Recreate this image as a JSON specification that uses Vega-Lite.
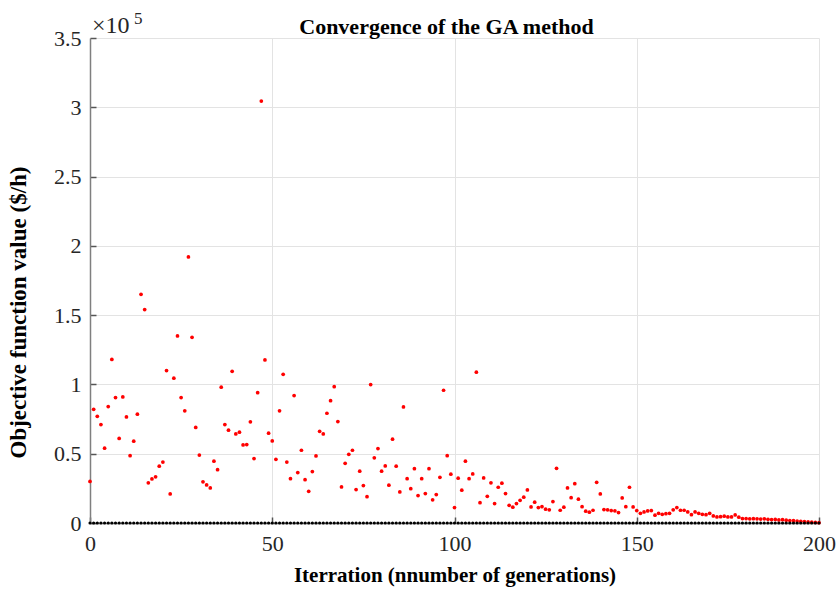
{
  "$schema": "https://vega.github.io/schema/vega-lite/v6.json",
  "width": 729,
  "height": 485,
  "autosize": {"type": "none"},
  "padding": {"left": 90, "top": 38, "right": 21, "bottom": 66},
  "background": "white",
  "title": {"text": "Convergence of the GA  method", "font": "Liberation Serif", "fontSize": 22, "fontWeight": "bold", "color": "#000000", "offset": -46, "baseline": "alphabetic", "anchor": "middle", "frame": "group", "dx": -8},
  "config": {"view": {"stroke": null}},
  "datasets": {
    "ga": [
      {"i":0,"v":30000,"b":0},{"i":1,"v":82000,"b":0},{"i":2,"v":77000,"b":0},{"i":3,"v":71000,"b":0},{"i":4,"v":54000,"b":0},
      {"i":5,"v":84000,"b":0},{"i":6,"v":118000,"b":0},{"i":7,"v":90500,"b":0},{"i":8,"v":61000,"b":0},{"i":9,"v":91000,"b":0},
      {"i":10,"v":76500,"b":0},{"i":11,"v":48600,"b":0},{"i":12,"v":59000,"b":0},{"i":13,"v":78500,"b":0},{"i":14,"v":165000,"b":0},
      {"i":15,"v":154000,"b":0},{"i":16,"v":29000,"b":0},{"i":17,"v":31800,"b":0},{"i":18,"v":33300,"b":0},{"i":19,"v":41000,"b":0},
      {"i":20,"v":44000,"b":0},{"i":21,"v":110000,"b":0},{"i":22,"v":21000,"b":0},{"i":23,"v":104500,"b":0},{"i":24,"v":135000,"b":0},
      {"i":25,"v":90500,"b":0},{"i":26,"v":81000,"b":0},{"i":27,"v":192000,"b":0},{"i":28,"v":134000,"b":0},{"i":29,"v":69000,"b":0},
      {"i":30,"v":49000,"b":0},{"i":31,"v":29700,"b":0},{"i":32,"v":27500,"b":0},{"i":33,"v":25300,"b":0},{"i":34,"v":44600,"b":0},
      {"i":35,"v":38500,"b":0},{"i":36,"v":98000,"b":0},{"i":37,"v":71000,"b":0},{"i":38,"v":67000,"b":0},{"i":39,"v":109500,"b":0},
      {"i":40,"v":64300,"b":0},{"i":41,"v":65500,"b":0},{"i":42,"v":56300,"b":0},{"i":43,"v":56600,"b":0},{"i":44,"v":73000,"b":0},
      {"i":45,"v":46500,"b":0},{"i":46,"v":94000,"b":0},{"i":47,"v":304500,"b":0},{"i":48,"v":117700,"b":0},{"i":49,"v":64800,"b":0},
      {"i":50,"v":59200,"b":0},{"i":51,"v":46000,"b":0},{"i":52,"v":81000,"b":0},{"i":53,"v":107300,"b":0},{"i":54,"v":44000,"b":0},
      {"i":55,"v":32000,"b":0},{"i":56,"v":92000,"b":0},{"i":57,"v":36400,"b":0},{"i":58,"v":52500,"b":0},{"i":59,"v":31300,"b":0},
      {"i":60,"v":22900,"b":0},{"i":61,"v":37100,"b":0},{"i":62,"v":48400,"b":0},{"i":63,"v":66200,"b":0},{"i":64,"v":64300,"b":0},
      {"i":65,"v":79200,"b":0},{"i":66,"v":88300,"b":0},{"i":67,"v":98400,"b":0},{"i":68,"v":73200,"b":0},{"i":69,"v":26000,"b":0},
      {"i":70,"v":43100,"b":0},{"i":71,"v":49600,"b":0},{"i":72,"v":52500,"b":0},{"i":73,"v":24100,"b":0},{"i":74,"v":37400,"b":0},
      {"i":75,"v":27000,"b":0},{"i":76,"v":19000,"b":0},{"i":77,"v":99900,"b":0},{"i":78,"v":47000,"b":0},{"i":79,"v":53700,"b":0},
      {"i":80,"v":37400,"b":0},{"i":81,"v":41200,"b":0},{"i":82,"v":27300,"b":0},{"i":83,"v":60500,"b":0},{"i":84,"v":41000,"b":0},
      {"i":85,"v":22400,"b":0},{"i":86,"v":83800,"b":0},{"i":87,"v":32000,"b":0},{"i":88,"v":24800,"b":0},{"i":89,"v":39200,"b":0},
      {"i":90,"v":19800,"b":0},{"i":91,"v":32000,"b":0},{"i":92,"v":21200,"b":0},{"i":93,"v":39200,"b":0},{"i":94,"v":16700,"b":0},
      {"i":95,"v":20500,"b":0},{"i":96,"v":33000,"b":0},{"i":97,"v":95800,"b":0},{"i":98,"v":48600,"b":0},{"i":99,"v":35200,"b":0},
      {"i":100,"v":11100,"b":0},{"i":101,"v":32300,"b":0},{"i":102,"v":23700,"b":0},{"i":103,"v":44600,"b":0},{"i":104,"v":32000,"b":0},
      {"i":105,"v":35400,"b":0},{"i":106,"v":108800,"b":0},{"i":107,"v":14700,"b":0},{"i":108,"v":32500,"b":0},{"i":109,"v":19300,"b":0},
      {"i":110,"v":29000,"b":0},{"i":111,"v":14000,"b":0},{"i":112,"v":25800,"b":0},{"i":113,"v":28700,"b":0},{"i":114,"v":21200,"b":0},
      {"i":115,"v":12800,"b":0},{"i":116,"v":11400,"b":0},{"i":117,"v":14000,"b":0},{"i":118,"v":16400,"b":0},{"i":119,"v":18600,"b":0},
      {"i":120,"v":23900,"b":0},{"i":121,"v":11600,"b":0},{"i":122,"v":15000,"b":0},{"i":123,"v":11100,"b":0},{"i":124,"v":11800,"b":0},
      {"i":125,"v":10000,"b":0},{"i":126,"v":9500,"b":0},{"i":127,"v":15500,"b":0},{"i":128,"v":39500,"b":0},{"i":129,"v":9200,"b":0},
      {"i":130,"v":11400,"b":0},{"i":131,"v":25300,"b":0},{"i":132,"v":18300,"b":0},{"i":133,"v":28400,"b":0},{"i":134,"v":17200,"b":0},
      {"i":135,"v":11800,"b":0},{"i":136,"v":8500,"b":0},{"i":137,"v":7800,"b":0},{"i":138,"v":9200,"b":0},{"i":139,"v":29400,"b":0},
      {"i":140,"v":21000,"b":0},{"i":141,"v":9700,"b":0},{"i":142,"v":9500,"b":0},{"i":143,"v":9000,"b":0},{"i":144,"v":8800,"b":0},
      {"i":145,"v":7500,"b":0},{"i":146,"v":18100,"b":0},{"i":147,"v":11800,"b":0},{"i":148,"v":25800,"b":0},{"i":149,"v":11600,"b":0},
      {"i":150,"v":9000,"b":0},{"i":151,"v":7000,"b":0},{"i":152,"v":8000,"b":0},{"i":153,"v":8700,"b":0},{"i":154,"v":9000,"b":0},
      {"i":155,"v":5600,"b":0},{"i":156,"v":7000,"b":0},{"i":157,"v":6300,"b":0},{"i":158,"v":6700,"b":0},{"i":159,"v":7000,"b":0},
      {"i":160,"v":9500,"b":0},{"i":161,"v":11100,"b":0},{"i":162,"v":9200,"b":0},{"i":163,"v":9200,"b":0},{"i":164,"v":8000,"b":0},
      {"i":165,"v":6000,"b":0},{"i":166,"v":8000,"b":0},{"i":167,"v":7000,"b":0},{"i":168,"v":6300,"b":0},{"i":169,"v":6000,"b":0},
      {"i":170,"v":7000,"b":0},{"i":171,"v":5100,"b":0},{"i":172,"v":4400,"b":0},{"i":173,"v":4600,"b":0},{"i":174,"v":4900,"b":0},
      {"i":175,"v":4400,"b":0},{"i":176,"v":4400,"b":0},{"i":177,"v":5800,"b":0},{"i":178,"v":4200,"b":0},{"i":179,"v":3200,"b":0},
      {"i":180,"v":3200,"b":0},{"i":181,"v":3000,"b":0},{"i":182,"v":3100,"b":0},{"i":183,"v":3000,"b":0},{"i":184,"v":2800,"b":0},
      {"i":185,"v":3000,"b":0},{"i":186,"v":2700,"b":0},{"i":187,"v":2500,"b":0},{"i":188,"v":2600,"b":0},{"i":189,"v":2200,"b":0},
      {"i":190,"v":2400,"b":0},{"i":191,"v":2000,"b":0},{"i":192,"v":1800,"b":0},{"i":193,"v":1700,"b":0},{"i":194,"v":1400,"b":0},
      {"i":195,"v":1200,"b":0},{"i":196,"v":1000,"b":0},{"i":197,"v":800,"b":0},{"i":198,"v":600,"b":0},{"i":199,"v":400,"b":0},
      {"i":200,"v":200,"b":0}
    ],
    "mult": [{"t1": "×10", "t2": "5", "x": 0, "y": 350000}]
  },
  "layer": [
    {
      "data": {"name": "ga"},
      "mark": {"type": "point", "filled": true, "shape": "circle", "size": 14, "color": "#ff0000", "opacity": 1},
      "encoding": {
        "x": {
          "field": "i", "type": "quantitative",
          "scale": {"domain": [0, 200], "nice": false, "zero": false},
          "axis": {
            "values": [0, 50, 100, 150, 200],
            "title": "Iterration (nnumber of generations)",
            "titleFont": "Liberation Serif", "titleFontSize": 21, "titleFontWeight": "bold", "titleColor": "#000000", "titlePadding": 10,
            "labelFont": "Liberation Serif", "labelFontSize": 22, "labelColor": "#262626", "labelPadding": 16, "labelFlush": false,
            "grid": true, "gridColor": "#e3e3e3", "gridWidth": 1,
            "domainColor": "#7f7f7f", "domainWidth": 1.5,
            "tickColor": "#555555", "tickSize": -6, "tickWidth": 1.5
          }
        },
        "y": {
          "field": "v", "type": "quantitative",
          "scale": {"domain": [0, 350000], "nice": false},
          "axis": {
            "values": [0, 50000, 100000, 150000, 200000, 250000, 300000, 350000],
            "labelExpr": "format(datum.value / 100000, '')",
            "title": "Objective function value ($/h)",
            "titleFont": "Liberation Serif", "titleFontSize": 23, "titleFontWeight": "bold", "titleColor": "#000000",
            "titleX": -60, "titleY": 274,
            "labelFont": "Liberation Serif", "labelFontSize": 22, "labelColor": "#262626", "labelPadding": 15, "labelFlush": false,
            "grid": true, "gridColor": "#e3e3e3", "gridWidth": 1,
            "domainColor": "#7f7f7f", "domainWidth": 1.5,
            "tickColor": "#555555", "tickSize": -6, "tickWidth": 1.5
          }
        }
      }
    },
    {
      "data": {"name": "ga"},
      "mark": {"type": "point", "filled": true, "shape": "circle", "size": 10, "color": "#000000", "opacity": 1},
      "encoding": {
        "x": {"field": "i", "type": "quantitative"},
        "y": {"field": "b", "type": "quantitative"}
      }
    },
    {
      "data": {"name": "mult"},
      "mark": {"type": "text", "font": "Liberation Serif", "fontSize": 24, "color": "#262626", "align": "left", "baseline": "alphabetic", "dx": 2, "dy": -5},
      "encoding": {
        "x": {"field": "x", "type": "quantitative"},
        "y": {"field": "y", "type": "quantitative"},
        "text": {"field": "t1"}
      }
    },
    {
      "data": {"name": "mult"},
      "mark": {"type": "text", "font": "Liberation Serif", "fontSize": 17, "color": "#262626", "align": "left", "baseline": "alphabetic", "dx": 44, "dy": -14},
      "encoding": {
        "x": {"field": "x", "type": "quantitative"},
        "y": {"field": "y", "type": "quantitative"},
        "text": {"field": "t2"}
      }
    }
  ]
}
